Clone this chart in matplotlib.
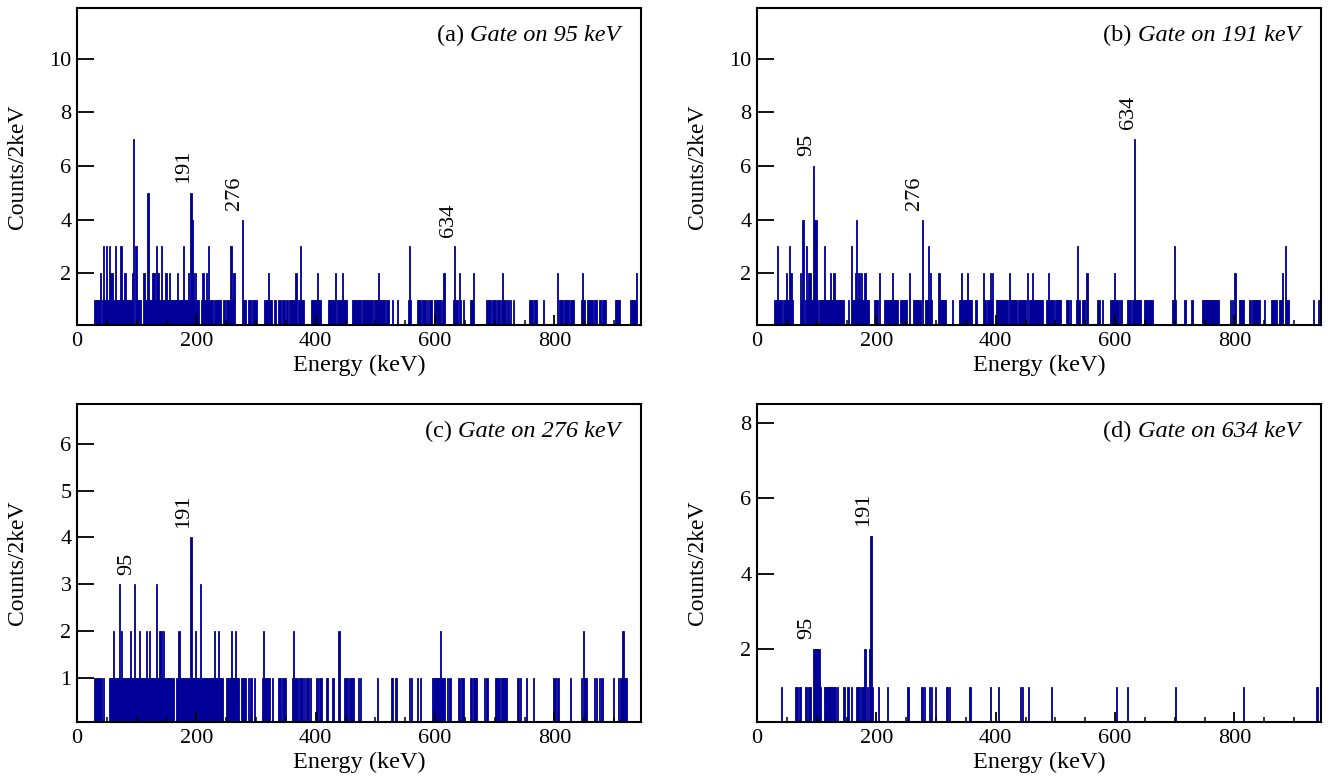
import numpy as np
import matplotlib
matplotlib.use('Agg')
import matplotlib.pyplot as plt
from matplotlib.ticker import MultipleLocator, FixedLocator

plt.rcParams['font.family'] = ['Liberation Serif', 'DejaVu Serif']

# --- data: 2 keV bins, lower bin edge in keV ---
# (a) gate on 95 keV
a_ones = [28, 30, 32, 34, 36, 42, 46, 50, 52, 60, 62, 66, 68, 70, 76, 82, 84, 86, 88, 90,
          100, 102, 104, 106, 114, 116, 120, 122, 124, 130, 138, 142, 144, 146, 150, 152,
          156, 158, 160, 162, 164, 166, 170, 172, 174, 176, 180, 182, 184, 188, 196, 200, 202,
          208, 212, 214, 218, 222, 224, 226, 230, 232, 234, 236, 238, 240, 244, 246, 250,
          252, 254, 260, 278, 280, 282, 286, 288, 290, 294, 296, 298, 300, 314, 316, 318,
          322, 324, 330, 332, 336, 338, 340, 344, 346, 350, 352, 356, 358, 360, 362, 364,
          370, 372, 376, 378, 392, 394, 396, 398, 400, 404, 406, 420, 422, 424, 426, 428,
          430, 436, 438, 440, 442, 446, 448, 450, 460, 462, 464, 466, 468, 470, 472, 474,
          478, 480, 482, 484, 486, 488, 490, 492, 494, 498, 500, 502, 506, 508, 510, 512,
          514, 518, 520, 528, 536, 554, 558, 570, 572, 574, 578, 580, 582, 586, 590, 592,
          598, 600, 602, 604, 606, 608, 612, 630, 634, 636, 642, 646, 658, 660, 662, 686,
          688, 690, 692, 696, 698, 700, 704, 706, 710, 714, 716, 720, 722, 726, 730, 758,
          760, 762, 766, 768, 780, 808, 810, 812, 816, 818, 820, 822, 826, 828, 830, 844,
          848, 850, 854, 856, 858, 860, 862, 866, 868, 870, 874, 876, 880, 882, 884, 902,
          904, 906, 908, 926, 928, 930, 932, 934]
a_peak_e = [38, 44, 48, 54, 56, 58, 64, 72, 74, 78, 80, 92, 94, 98, 110, 112, 118, 126, 128,
            132, 134, 136, 140, 148, 154, 168, 178, 186, 190, 192, 194, 198, 210, 216, 220,
            256, 258, 262, 276, 320, 366, 374, 402, 432, 444, 504, 556, 614, 632, 640, 664,
            712, 804, 846, 936]
a_peak_n = [2, 3, 3, 3, 2, 2, 3, 3, 3, 2, 2, 2, 7, 3, 2, 2, 5, 2, 2,
            3, 2, 2, 3, 2, 2, 2, 3, 2, 5, 4, 2, 2, 2, 2, 3,
            3, 3, 2, 4, 2, 2, 3, 2, 2, 2, 2, 3, 2, 3, 2, 2,
            2, 2, 2, 2]

# (b) gate on 191 keV
b_ones = [28, 30, 32, 36, 38, 40, 44, 46, 50, 52, 58, 74, 80, 84, 90, 92, 100, 104, 106, 108,
          110, 114, 116, 118, 120, 124, 126, 130, 132, 134, 136, 138, 140, 142, 144, 152,
          160, 162, 168, 172, 176, 178, 182, 184, 186, 196, 198, 200, 212, 214, 216, 218,
          220, 222, 224, 228, 230, 232, 234, 240, 242, 244, 246, 248, 250, 262, 264, 266,
          268, 270, 272, 282, 284, 288, 292, 306, 308, 310, 312, 314, 326, 338, 340, 344,
          346, 348, 350, 354, 356, 358, 366, 380, 382, 386, 388, 392, 400, 402, 404, 406,
          408, 410, 412, 414, 416, 418, 424, 426, 428, 430, 432, 434, 438, 440, 442, 444,
          446, 448, 456, 458, 462, 464, 466, 468, 470, 472, 474, 476, 478, 484, 486, 490,
          492, 494, 496, 500, 502, 504, 506, 508, 518, 520, 524, 534, 538, 540, 544, 546,
          548, 570, 572, 578, 592, 594, 596, 600, 602, 604, 608, 610, 620, 622, 624, 628,
          630, 634, 636, 638, 640, 642, 648, 650, 652, 654, 656, 658, 660, 662, 696, 700,
          716, 728, 746, 748, 750, 752, 754, 756, 758, 760, 762, 764, 766, 768, 770, 772,
          792, 796, 808, 810, 812, 814, 824, 826, 830, 832, 834, 836, 838, 840, 850, 862,
          864, 866, 868, 870, 874, 876, 878, 886, 888, 890, 932, 940]
b_peak_e = [34, 48, 54, 56, 72, 76, 82, 86, 88, 94, 96, 98, 112, 122, 128, 158, 164, 166,
            170, 174, 180, 204, 226, 254, 276, 286, 290, 304, 342, 352, 378, 390, 394, 422,
            452, 460, 488, 536, 552, 598, 632, 698, 800, 880, 884]
b_peak_n = [3, 2, 3, 2, 2, 4, 3, 2, 2, 6, 4, 4, 3, 2, 2, 3, 2, 4,
            2, 2, 2, 2, 2, 2, 4, 3, 2, 2, 2, 2, 2, 2, 2, 2,
            2, 2, 2, 3, 2, 2, 7, 3, 2, 2, 3]

# (c) gate on 276 keV
c_ones = [28, 30, 32, 34, 36, 38, 40, 44, 54, 56, 58, 62, 64, 66, 68, 72, 76, 78, 80, 82,
          84, 86, 90, 92, 94, 98, 100, 102, 106, 108, 110, 112, 114, 118, 122, 124, 126,
          128, 130, 134, 136, 142, 146, 148, 150, 152, 154, 156, 158, 160, 166, 168, 172,
          174, 176, 178, 180, 182, 184, 186, 188, 192, 194, 196, 200, 202, 204, 208, 210,
          212, 214, 216, 218, 220, 222, 224, 226, 228, 232, 234, 238, 240, 242, 250, 252,
          254, 256, 260, 262, 266, 268, 270, 274, 276, 278, 280, 282, 286, 290, 292, 296,
          310, 314, 316, 318, 320, 322, 326, 336, 338, 340, 344, 346, 348, 360, 364, 366,
          368, 372, 374, 376, 380, 384, 386, 390, 400, 402, 406, 408, 418, 428, 448, 450,
          452, 456, 458, 460, 462, 470, 474, 502, 526, 528, 532, 534, 556, 560, 570, 574,
          594, 596, 598, 600, 602, 604, 606, 610, 612, 614, 620, 624, 638, 640, 644, 646,
          658, 660, 664, 666, 668, 682, 686, 700, 702, 704, 706, 710, 712, 714, 716, 718,
          738, 742, 752, 764, 798, 800, 804, 806, 826, 844, 850, 852, 866, 870, 874, 878,
          880, 898, 906, 910, 912, 916, 918, 920]
c_peak_e = [60, 70, 74, 88, 96, 104, 116, 120, 132, 138, 140, 144, 170, 190, 198, 206, 230,
            236, 258, 264, 312, 362, 438, 608, 848, 914]
c_peak_n = [2, 3, 2, 2, 3, 2, 2, 2, 3, 2, 2, 2, 2, 4, 2, 3, 2,
            2, 2, 2, 2, 2, 2, 2, 2, 2]

# (d) gate on 634 keV
d_ones = [40, 64, 66, 70, 72, 80, 82, 86, 88, 106, 112, 114, 116, 118, 120, 122, 124, 126,
          128, 130, 134, 144, 146, 150, 152, 158, 166, 168, 170, 174, 176, 178, 184, 192,
          202, 218, 252, 274, 276, 280, 288, 292, 298, 316, 318, 322, 356, 390, 404, 440,
          444, 454, 492, 602, 620, 700, 814, 936, 938]
d_peak_e = [94, 96, 98, 100, 102, 104, 180, 188, 190]
d_peak_n = [2, 2, 2, 2, 2, 2, 2, 2, 5]

panels = [
    dict(ones=a_ones, pe=a_peak_e, pn=a_peak_n, tag='a', gate='95', ymax=11.9,
         yticks=[2, 4, 6, 8, 10], labels=[191, 276, 634]),
    dict(ones=b_ones, pe=b_peak_e, pn=b_peak_n, tag='b', gate='191', ymax=11.9,
         yticks=[2, 4, 6, 8, 10], labels=[95, 276, 634]),
    dict(ones=c_ones, pe=c_peak_e, pn=c_peak_n, tag='c', gate='276', ymax=6.85,
         yticks=[1, 2, 3, 4, 5, 6], labels=[95, 191]),
    dict(ones=d_ones, pe=d_peak_e, pn=d_peak_n, tag='d', gate='634', ymax=8.5,
         yticks=[2, 4, 6, 8], labels=[95, 191]),
]

BIN = 2
XMAX = 945
BLUE = '#000099'


def build_hist(ones, peak_e, peak_n):
    counts = {}
    for e in ones:
        counts[e] = 1
    for e, n in zip(peak_e, peak_n):
        counts[e] = n
    e = np.array(sorted(counts))
    n = np.array([counts[k] for k in e])
    return e, n


W, H = 1332, 776
fig = plt.figure(figsize=(W / 100, H / 100), dpi=100)
rects = [
    (77 / W, 1 - 325 / H, 564 / W, 317 / H),
    (757 / W, 1 - 325 / H, 564 / W, 317 / H),
    (77 / W, 1 - 722 / H, 564 / W, 318 / H),
    (757 / W, 1 - 722 / H, 564 / W, 318 / H),
]

for rect, p in zip(rects, panels):
    ax = fig.add_axes(rect)
    e, n = build_hist(p['ones'], p['pe'], p['pn'])
    ax.bar(e, n, width=BIN, align='edge', color=BLUE, edgecolor=BLUE, linewidth=0.6)

    ax.set_xlim(0, XMAX)
    ax.set_ylim(0.06, p['ymax'])
    ax.xaxis.set_major_locator(MultipleLocator(200))
    ax.xaxis.set_minor_locator(MultipleLocator(50))
    ax.yaxis.set_major_locator(FixedLocator(p['yticks']))
    ax.tick_params(axis='x', which='major', direction='in', length=7, width=1.3,
                   labelsize=16, pad=5)
    ax.tick_params(axis='x', which='minor', direction='in', length=3.5, width=1.1)
    ax.tick_params(axis='y', which='major', direction='in', length=12, width=1.3,
                   labelsize=16, pad=4)
    for s in ax.spines.values():
        s.set_linewidth(1.5)

    ax.set_xlabel('Energy (keV)', fontsize=17.5)
    ax.set_ylabel('Counts/2keV', fontsize=17)
    ax.xaxis.set_label_coords(0.5, -0.095)
    ax.yaxis.set_label_coords(-0.087, 0.5)

    gate = ax.text(0.963, 0.912, 'Gate on %s keV' % p['gate'], style='italic',
                   transform=ax.transAxes, ha='right', va='center', fontsize=17.5)
    ax.annotate('(%s) ' % p['tag'], xy=(0, 0), xycoords=gate, ha='right', va='bottom',
                fontsize=17.5)

    # peak labels above the strongest bin near each energy
    for lab in p['labels']:
        near = np.abs(e + BIN / 2 - lab) <= 4
        top = n[near].max()
        ax.annotate(str(lab), xy=(lab, top), xytext=(-5, 7), textcoords='offset points',
                    rotation=90, ha='center', va='bottom', fontsize=16)

fig.savefig('out.png', dpi=100)
